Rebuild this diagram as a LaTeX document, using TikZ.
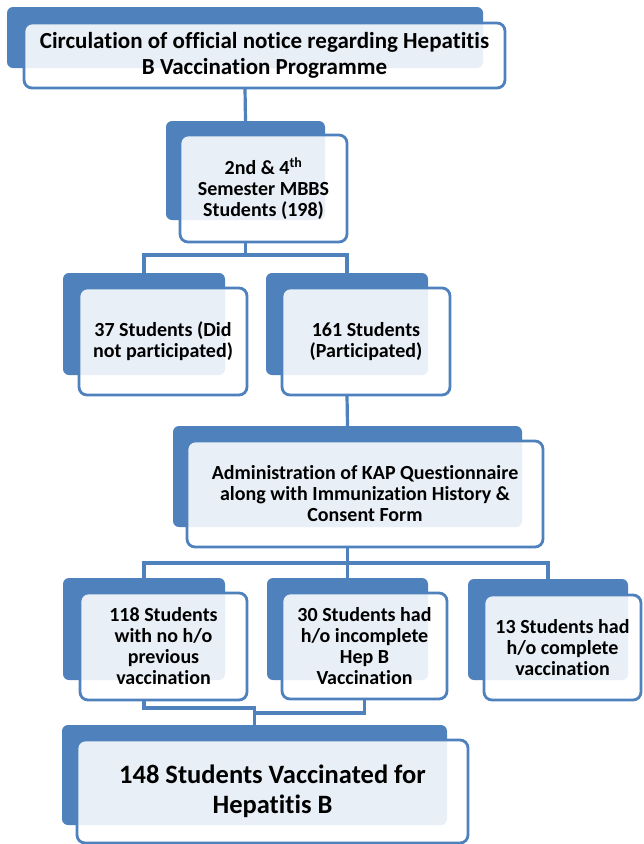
\documentclass[tikz,border=0pt]{standalone}
\usepackage{fontspec}
\setmainfont{Carlito}[RawFeature={-liga;-clig;-calt;-dlig}]
\definecolor{bblue}{HTML}{4F81BD}
\tikzset{
  backbox/.style={fill=bblue, rounded corners=6pt, inner sep=0pt, outer sep=0pt},
  frontbox/.style={draw=bblue, line width=2.8pt, fill=white, fill opacity=0.88, text opacity=1,
    rounded corners=8pt, inner sep=0pt, outer sep=0pt, align=center},
  conn/.style={draw=bblue, line width=3.2pt}
}
% back box: name, left, top, right, bottom
\newcommand{\mkback}[5]{\node[backbox, minimum width={#4-#2}, minimum height={#5-#3}] (#1) at ({(#2+#4)/2},{(#3+#5)/2}) {};}
% front box: name, left, top, right, bottom, font, text
\newcommand{\mkfront}[7]{\node[frontbox, minimum width={#4-#2}, minimum height={#5-#3}, font={#6}] (#1) at ({(#2+#4)/2},{(#3+#5)/2}) {#7};}
\newcommand{\fsT}{\bfseries\fontsize{23}{26}\selectfont}
\newcommand{\fsB}{\bfseries\fontsize{20}{21}\selectfont}
\newcommand{\fsL}{\bfseries\fontsize{26.5}{30}\selectfont}
\begin{document}
\begin{tikzpicture}[x=1pt,y=-1pt]
\useasboundingbox (0,0) rectangle (644,844);
% box 1
\mkback{b1}{7}{7}{483}{68}
\mkfront{f1}{24}{23}{505}{88}{\fsT}{Circulation of official notice regarding Hepatitis\\B Vaccination Programme}
% box 2
\mkback{b2}{166}{121}{325}{220}
\mkfront{f2}{180}{135}{347}{242}{\fsB}{2nd \& 4\textsuperscript{th}\\Semester MBBS\\Students (198)}
% box 3, 4
\mkback{b3}{63}{273}{225}{375}
\mkfront{f3}{79}{288}{247}{395}{\fsB}{37 Students (Did\\not participated)}
\mkback{b4}{266}{273}{428}{375}
\mkfront{f4}{282}{288}{450}{395}{\fsB}{161 Students\\(Participated)}
% box 5
\mkback{b5}{173}{426}{522}{527}
\mkfront{f5}{187}{441}{543}{547}{\fsB}{Administration of KAP Questionnaire\\along with Immunization History \&\\Consent Form}
% box 6, 7, 9
\mkback{b6}{63}{578}{225}{680}
\mkfront{f6}{80}{593}{247}{700}{\fsB}{118 Students\\with no h/o\\previous\\vaccination}
\mkback{b7}{267}{578}{428}{680}
\mkfront{f7}{282}{593}{447}{699}{\fsB}{30 Students had\\h/o incomplete\\Hep B\\Vaccination}
\mkback{b9}{468}{579}{628}{680}
\mkfront{f9}{484}{595}{641}{700}{\fsB}{13 Students had\\h/o complete\\vaccination}
% box 8
\mkback{b8}{62}{725}{447}{825}
\mkfront{f8}{77}{740}{468}{843}{\fsL}{148 Students Vaccinated for\\Hepatitis B}
% connectors
\coordinate (j2) at (245.5,255);
\coordinate (j5) at (347.5,563);
\coordinate (k1) at (254.5,708);
\coordinate (k2) at (254.5,713);
\draw[conn] (f1.south -| b1.center) -- (b2.north);
\draw[conn] (f2.south -| b2.center) -- (j2);
\draw[conn] (b3.north) |- (j2) -| (b4.north);
\draw[conn] (f4.south -| b4.center) -- (b5.north);
\draw[conn] (f5.south -| b5.center) -- (j5);
\draw[conn] (b6.north) |- (j5) -| (b9.north);
\draw[conn] (j5) -- (b7.north);
\draw[conn] (f6.south -| b6.center) |- (k1) -- (b8.north);
\draw[conn] (f7.south) |- (k2);
\end{tikzpicture}
\end{document}
